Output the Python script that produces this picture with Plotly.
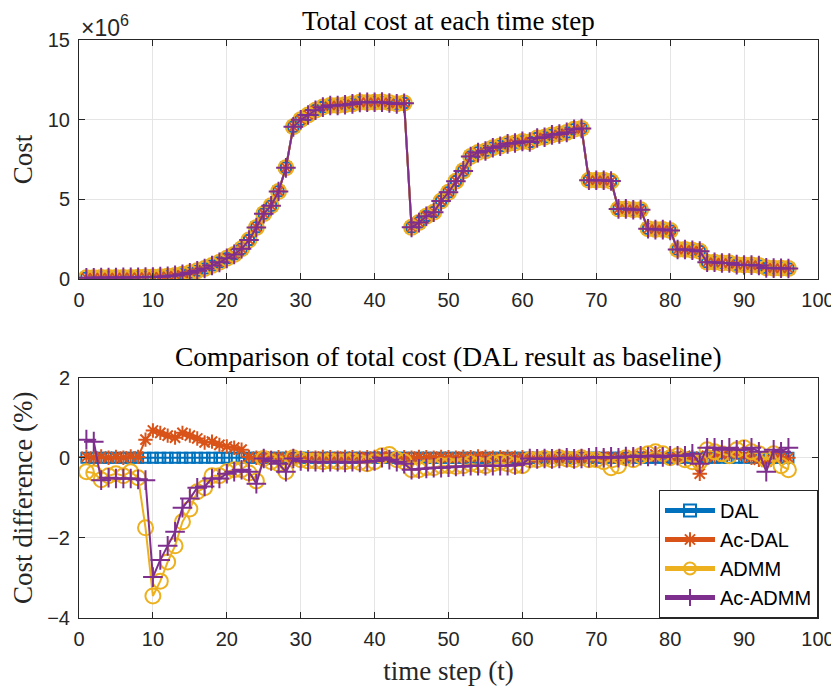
import plotly.graph_objects as go
from plotly.subplots import make_subplots

# ---------------- data ----------------
t = list(range(1, 97))

# DAL total cost (x 1e6)
cost_dal = [0.08, 0.08, 0.09, 0.09, 0.09, 0.10, 0.10, 0.11, 0.12, 0.13,
            0.15, 0.18, 0.23, 0.30, 0.40, 0.52, 0.66, 0.85, 1.05, 1.30,
            1.55, 1.90, 2.45, 3.25, 4.10, 4.60, 5.50, 7.00, 9.55, 10.00,
            10.30, 10.60, 10.80, 10.90, 10.90, 10.95, 11.00, 11.10, 11.10, 11.10,
            11.10, 11.05, 11.00, 11.05, 3.25, 3.55, 3.95, 4.20, 4.90, 5.45,
            6.15, 6.80, 7.70, 7.95, 8.05, 8.25, 8.35, 8.50, 8.55, 8.65,
            8.60, 8.85, 8.90, 9.05, 9.10, 9.20, 9.40, 9.45, 6.20, 6.20,
            6.20, 6.15, 4.40, 4.40, 4.35, 4.35, 3.15, 3.10, 3.10, 3.05,
            1.85, 1.85, 1.80, 1.75, 1.05, 1.05, 1.00, 1.00, 0.90, 0.88,
            0.87, 0.85, 0.70, 0.68, 0.67, 0.66]

# cost differences (%) relative to DAL
diff_dal = [0.0] * 96

diff_acdal = [0.02, 0.00, 0.03, 0.00, 0.02, 0.00, 0.03, 0.02, 0.45, 0.68,
              0.62, 0.55, 0.50, 0.62, 0.55, 0.48, 0.38, 0.40, 0.32, 0.28,
              0.25, 0.20, 0.02, 0.00, 0.02, 0.00, 0.01, 0.00, 0.02, 0.00,
              0.01, 0.00, 0.02, 0.01, 0.00, 0.02, 0.01, 0.00, 0.01, 0.02,
              0.03, 0.02, 0.00, 0.01, 0.00, 0.02, 0.01, 0.00, 0.02, 0.01,
              0.00, 0.02, 0.01, 0.03, 0.02, 0.00, 0.01, 0.02, 0.00, 0.01,
              0.00, 0.02, 0.01, 0.00, 0.02, 0.01, 0.00, 0.02, 0.01, 0.00,
              0.02, 0.01, 0.00, 0.02, 0.05, 0.03, 0.04, 0.08, 0.05, 0.02,
              0.00, 0.05, 0.02, -0.40, 0.05, 0.02, 0.08, 0.10, 0.12, 0.05,
              0.00, -0.05, -0.10, 0.05, 0.02, 0.00]

diff_admm = [-0.35, -0.38, -0.55, -0.45, -0.40, -0.45, -0.35, -0.50, -1.75, -3.45,
             -3.08, -2.60, -2.20, -1.60, -1.28, -0.85, -0.75, -0.45, -0.45, -0.35,
             -0.30, -0.30, -0.38, -0.58, -0.02, -0.10, -0.15, -0.35, 0.00, -0.05,
             -0.08, -0.08, -0.10, -0.08, -0.10, -0.10, -0.08, -0.12, -0.15, -0.10,
             0.05, 0.08, -0.05, -0.10, -0.30, -0.30, -0.25, -0.25, -0.20, -0.20,
             -0.22, -0.20, -0.15, -0.18, -0.20, -0.15, -0.12, -0.15, -0.20, -0.20,
             -0.05, -0.05, -0.02, -0.05, 0.00, -0.03, -0.05, 0.00, -0.05, -0.05,
             -0.10, -0.25, -0.20, 0.00, -0.05, 0.05, 0.10, 0.15, 0.10, 0.00,
             0.05, -0.05, -0.10, -0.10, 0.20, 0.15, 0.10, 0.05, 0.20, 0.25,
             0.15, 0.10, -0.05, 0.10, -0.20, -0.30]

diff_acadmm = [0.45, 0.40, -0.56, -0.50, -0.52, -0.52, -0.52, -0.54, -0.56, -2.98,
               -2.55, -2.20, -1.85, -1.25, -1.02, -0.75, -0.72, -0.52, -0.52, -0.40,
               -0.35, -0.30, -0.35, -0.65, -0.02, -0.08, -0.15, -0.35, -0.02, -0.08,
               -0.10, -0.10, -0.12, -0.10, -0.10, -0.12, -0.10, -0.12, -0.10, -0.08,
               0.00, -0.05, -0.10, -0.15, -0.30, -0.28, -0.27, -0.25, -0.25, -0.24,
               -0.22, -0.22, -0.20, -0.20, -0.20, -0.20, -0.20, -0.20, -0.18, -0.15,
               -0.02, -0.03, -0.02, -0.03, -0.02, 0.00, -0.03, -0.02, 0.00, 0.02,
               0.00, 0.02, 0.00, 0.03, 0.02, 0.05, 0.03, 0.05, 0.02, 0.05,
               0.05, 0.05, 0.10, -0.15, 0.25, 0.25, 0.20, 0.25, 0.20, 0.20,
               0.25, 0.15, -0.35, 0.20, 0.15, 0.25]

series_names = ["DAL", "Ac-DAL", "ADMM", "Ac-ADMM"]
series_diffs = [diff_dal, diff_acdal, diff_admm, diff_acadmm]
colors = ["#0072BD", "#D95319", "#EDB120", "#7E2F8E"]
symbols = ["square-open", "asterisk-open", "circle-open", "cross-thin-open"]
msizes = [10, 12, 15, 14]

SERIF = "Liberation Serif, Times New Roman, serif"
SANS = "Liberation Sans, Arial, sans-serif"

# ---------------- figure ----------------
fig = make_subplots(rows=2, cols=1)

for name, d, c, s, ms in zip(series_names, series_diffs, colors, symbols, msizes):
    cost = [cv * (1 + dv / 100.0) for cv, dv in zip(cost_dal, d)]
    fig.add_trace(go.Scatter(x=t, y=cost, mode="lines+markers", name=name,
                             line=dict(color=c, width=2),
                             marker=dict(symbol=s, size=ms, color=c,
                                         line=dict(color=c, width=2)),
                             showlegend=False), row=1, col=1)

for name, d, c, s, ms in zip(series_names, series_diffs, colors, symbols, msizes):
    fig.add_trace(go.Scatter(x=t, y=d, mode="lines+markers", name=name,
                             line=dict(color=c, width=2),
                             marker=dict(symbol=s, size=ms, color=c,
                                         line=dict(color=c, width=2)),
                             showlegend=True), row=2, col=1)

axis_common = dict(showline=True, linecolor="#262626", linewidth=1, mirror="ticks",
                   ticks="inside", ticklen=6, tickcolor="#262626", automargin=False,
                   showgrid=True, gridcolor="#e5e5e5", gridwidth=1, zeroline=False,
                   tickfont=dict(family=SANS, size=20, color="#262626"))

fig.update_xaxes(range=[0, 100], tickvals=list(range(0, 101, 10)), ticklabelstandoff=3, **axis_common)
fig.update_yaxes(ticklabelstandoff=4, **axis_common)

# page body has an 8px margin: figure is placed at (8, 8)
fig.update_layout(
    width=831, height=680,
    margin=dict(l=71, r=21, t=32, b=70),
    paper_bgcolor="white", plot_bgcolor="white",
    xaxis=dict(domain=[0, 1], anchor="y"),
    yaxis=dict(domain=[0.5865, 1.0], range=[0, 15], tickvals=[0, 5, 10, 15],
               title=dict(text="Cost", font=dict(family=SERIF, size=27, color="#262626"),
                          standoff=9)),
    xaxis2=dict(domain=[0, 1], anchor="y2",
                title=dict(text="time step (t)", font=dict(family=SERIF, size=27, color="#262626"),
                           standoff=12)),
    yaxis2=dict(domain=[0.0, 0.416], range=[-4, 2], tickvals=[-4, -2, 0, 2],
                title=dict(text="Cost difference (%)", font=dict(family=SERIF, size=27, color="#262626"),
                           standoff=9)),
    legend=dict(x=1, y=0, xanchor="right", yanchor="bottom",
                bgcolor="white", bordercolor="#262626", borderwidth=1,
                font=dict(family=SANS, size=20, color="#000000"),
                itemsizing="constant", itemwidth=50, tracegroupgap=0),
    showlegend=True,
)

fig.add_annotation(text="Total cost at each time step", xref="paper", yref="paper",
                   x=0.5, y=1.0, xanchor="center", yanchor="bottom", yshift=2, showarrow=False,
                   font=dict(family=SERIF, size=27, color="#000000"))
fig.add_annotation(text="Comparison of total cost (DAL result as baseline)", xref="paper", yref="paper",
                   x=0.5, y=0.416, xanchor="center", yanchor="bottom", yshift=4, showarrow=False,
                   font=dict(family=SERIF, size=27.5, color="#000000"))
fig.add_annotation(text="\u00d710<sup>6</sup>", xref="paper", yref="paper",
                   x=0, y=1.0, xanchor="left", yanchor="bottom", yshift=-3, showarrow=False,
                   font=dict(family=SANS, size=23, color="#262626"))

fig.write_html("out.html")
